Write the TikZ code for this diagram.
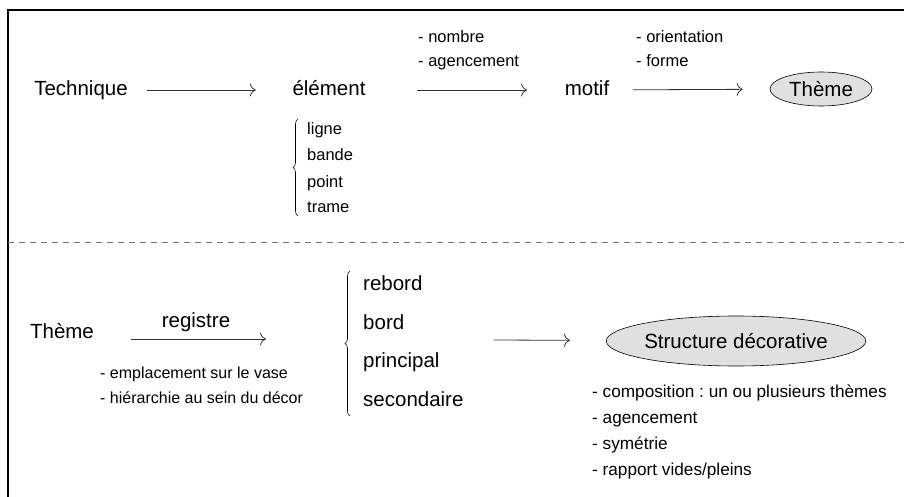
\documentclass[tikz,border=0pt]{standalone}
\usepackage{fontspec}
\setmainfont{Liberation Sans}
\usetikzlibrary{arrows.meta,shapes.geometric,decorations.pathreplacing}
\begin{document}
\frenchspacing
\begin{tikzpicture}[x=1pt,y=-1pt,
  big/.style={font=\fontsize{20.5}{24}\selectfont, inner sep=0pt, text height=15pt, text depth=3pt},
  small/.style={font=\fontsize{16.5}{19}\selectfont, inner sep=0pt, anchor=base west},
  smallb/.style={small, font=\fontsize{17.2}{20}\selectfont},
  smalla/.style={small, font=\fontsize{16}{19}\selectfont},
  arr/.style={draw=black!80, line width=0.8pt, -{To[length=6pt,width=13pt]}},
  oval/.style={ellipse, draw, line width=0.6pt, fill=black!12, inner sep=0pt,
    font=\fontsize{20.5}{24}\selectfont, text height=14.7pt, text depth=0pt},
  br/.style={decorate, decoration={brace, amplitude=5pt}, line width=0.6pt},
]
\useasboundingbox (0,0) rectangle (904,497);
% frame
\draw[line width=1.2pt] (8,497) -- (8,10) -- (904,10);
\draw[black!55, line width=0.8pt, dash pattern=on 6pt off 5pt] (8,242) -- (904,242);

% top row
\node[big] (tech) at (81,90) {Technique};
\node[big] (elem) at (329,90) {élément};
\node[big] (motif) at (587,90) {motif};
\node[oval, minimum width=102pt, minimum height=34pt] (theme1) at (821,89) {Thème};
\draw[arr, shorten <=19.5pt, shorten >=36.5pt] (tech) -- (elem);
\draw[arr, shorten <=51.5pt, shorten >=37.5pt] (elem) -- (motif);
\draw[arr, shorten <=23.5pt, shorten >=27pt] (motif) -- (theme1);

\node[small] (nombre) at (418,43) {- nombre};
\node[small] (agenc1) at (418,67) {- agencement};
\node[small] (orient) at (636,43) {- orientation};
\node[small] (forme) at (636,67) {- forme};

\node[small] (ligne) at (307,135) {ligne};
\node[small] (bande) at (307,161) {bande};
\node[small] (point) at (307,187) {point};
\node[small] (trame) at (307,212) {trame};
\coordinate (b1top) at (298,119);
\coordinate (b1bot) at (298,216);
\draw[br] (b1bot) -- (b1top);

% lower row
\node[big] (theme2) at (62,332) {Thème};
\node[big, anchor=base] (registre) at (196,327) {registre};
\coordinate (r1) at (131,339);
\coordinate (r2) at (266,339);
\draw[arr] (r1) -- (r2);
\node[smalla] (empl) at (100,378) {- emplacement sur le vase};
\node[smalla] (hier) at (100,403) {- hiérarchie au sein du décor};

\node[big, anchor=base west] (rebord) at (363,290) {rebord};
\node[big, anchor=base west] (bord) at (363,329) {bord};
\node[big, anchor=base west] (princ) at (363,367) {principal};
\node[big, anchor=base west] (second) at (363,406) {secondaire};
\coordinate (b2top) at (350,271);
\coordinate (b2bot) at (350,416);
\draw[br] (b2bot) -- (b2top);

\node[oval, minimum width=248pt, minimum height=50pt] (struct) at (736,341) {Structure décorative};
\coordinate (s1) at (494,340);
\draw[arr, shorten >=36pt] (s1) -- (struct);

\node[smallb] (compo) at (592,397) {- composition : un ou plusieurs thèmes};
\node[smallb] (agenc2) at (592,423) {- agencement};
\node[smallb] (sym) at (592,449) {- symétrie};
\node[smallb] (rapport) at (592,475) {- rapport vides/pleins};
\end{tikzpicture}
\end{document}
